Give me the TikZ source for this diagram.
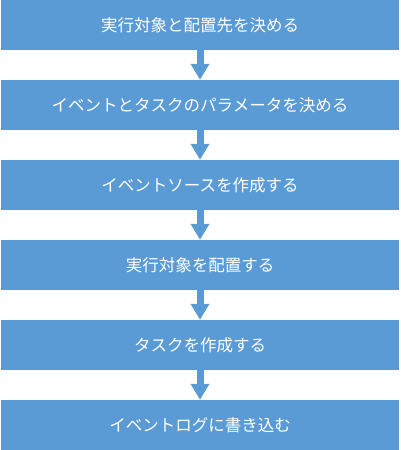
\documentclass[tikz,border=0pt]{standalone}
\usepackage{fontspec}
\newfontfamily\jp{Noto Sans CJK JP}
\usetikzlibrary{arrows.meta}
\definecolor{boxblue}{HTML}{5B9BD5}
\tikzset{
  stepbox/.style={fill=boxblue, draw=none, minimum width=398pt, minimum height=50pt,
    inner sep=0pt, text=white, font=\jp\fontsize{16.5pt}{18pt}\selectfont},
  flowarrow/.style={draw=boxblue, line width=7pt,
    -{Triangle[width=18pt,length=16pt]}, shorten >=0pt}
}
\begin{document}
\begin{tikzpicture}[x=1pt,y=1pt]
\useasboundingbox (0,0) rectangle (400,-450);
\node[stepbox] (s1) at (200,-25) {実行対象と配置先を決める};
\node[stepbox] (s2) at (200,-105) {イベントとタスクのパラメータを決める};
\node[stepbox] (s3) at (200,-185) {イベントソースを作成する};
\node[stepbox] (s4) at (200,-265) {実行対象を配置する};
\node[stepbox] (s5) at (200,-345) {タスクを作成する};
\node[stepbox] (s6) at (200,-425) {イベントログに書き込む};
\foreach \a/\b in {s1/s2,s2/s3,s3/s4,s4/s5,s5/s6}
  \draw[flowarrow] (\a.south) -- (\b.north);
\end{tikzpicture}
\end{document}
